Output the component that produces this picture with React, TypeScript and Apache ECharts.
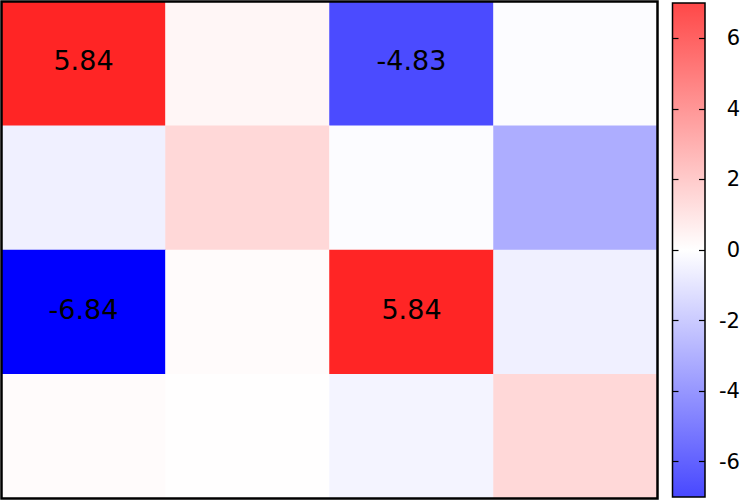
import React, { useEffect, useRef } from "react";
import * as echarts from "echarts";

const columns = ["c0", "c1", "c2", "c3"];
const rows = ["r0", "r1", "r2", "r3"];
const values: number[][] = [
  [5.84, 0.25, -4.83, -0.08],
  [-0.4, 1.05, -0.08, -2.2],
  [-6.84, 0.12, 5.84, -0.4],
  [0.1, 0.04, -0.3, 1.05],
];
const colorbarTicks = [-6, -4, -2, 0, 2, 4, 6];
const colorbarRange = [-7, 7];
const valueRange = [-6.84, 6.84];
const labelThreshold = 4;

export default function App() {
  const ref = useRef<HTMLDivElement>(null);
  useEffect(() => {
    if (!ref.current) return;
    const chart = echarts.init(ref.current, undefined, { renderer: "svg" });
    const data: [number, number, number][] = [];
    values.forEach((row, r) => row.forEach((v, c) => data.push([c, r, v])));
    const font = "DejaVu Sans";
    chart.setOption({
      animation: false,
      backgroundColor: "#ffffff",
      grid: [
        {
          left: 1.5, top: 1.5, width: 656, height: 497,
          show: true, z: 10, backgroundColor: "transparent",
          borderColor: "#000", borderWidth: 2.5,
        },
        {
          left: 672.5, top: 3, width: 33.5, height: 494,
          show: true, z: 10, backgroundColor: "transparent",
          borderColor: "#000", borderWidth: 1.5,
        },
      ],
      xAxis: [
        {
          type: "category", gridIndex: 0, data: columns,
          axisLine: { show: false }, axisTick: { show: false },
          axisLabel: { show: false }, splitLine: { show: false },
        },
        {
          type: "category", gridIndex: 1, data: ["cb"],
          axisLine: { show: false }, axisTick: { show: false },
          axisLabel: { show: false }, splitLine: { show: false },
        },
      ],
      yAxis: [
        {
          type: "category", gridIndex: 0, data: rows, inverse: true,
          axisLine: { show: false }, axisTick: { show: false },
          axisLabel: { show: false }, splitLine: { show: false },
        },
        {
          type: "value", gridIndex: 1, position: "right",
          min: colorbarRange[0], max: colorbarRange[1],
          axisLine: { show: false },
          splitLine: { show: false },
          axisTick: {
            show: true, inside: true, length: 6,
            customValues: colorbarTicks,
            lineStyle: { color: "#000", width: 1.2 },
          },
          axisLabel: {
            show: true, customValues: colorbarTicks,
            fontFamily: font, fontSize: 21, color: "#000",
            align: "right", margin: 35,
          },
          z: 11,
        },
        {
          type: "value", gridIndex: 1, position: "left",
          min: colorbarRange[0], max: colorbarRange[1],
          axisLine: { show: false },
          splitLine: { show: false },
          axisTick: {
            show: true, inside: true, length: 6,
            customValues: colorbarTicks,
            lineStyle: { color: "#000", width: 1.2 },
          },
          axisLabel: { show: false },
          z: 11,
        },
      ],
      visualMap: {
        show: false,
        type: "continuous",
        min: valueRange[0],
        max: valueRange[1],
        seriesIndex: 0,
        inRange: { color: ["#0000ff", "#ffffff", "#ff0000"] },
      },
      series: [
        {
          type: "heatmap",
          xAxisIndex: 0,
          yAxisIndex: 0,
          data,
          itemStyle: { borderWidth: 0 },
          label: {
            show: true,
            fontFamily: font,
            fontSize: 27,
            color: "#000",
            offset: [0, -3],
            formatter: (p: any) => {
              const v = p.value[2];
              return Math.abs(v) > labelThreshold ? v.toFixed(2) : "";
            },
          },
        },
        {
          type: "bar",
          xAxisIndex: 1,
          yAxisIndex: 1,
          data: [colorbarRange[1]],
          barWidth: "100%",
          barGap: "-100%",
          itemStyle: {
            color: new echarts.graphic.LinearGradient(0, 0, 0, 1, [
              { offset: 0, color: "#ff4848" },
              { offset: 1, color: "#ffffff" },
            ]),
          },
        },
        {
          type: "bar",
          xAxisIndex: 1,
          yAxisIndex: 1,
          data: [colorbarRange[0]],
          barWidth: "100%",
          barGap: "-100%",
          itemStyle: {
            color: new echarts.graphic.LinearGradient(0, 0, 0, 1, [
              { offset: 0, color: "#ffffff" },
              { offset: 1, color: "#4848ff" },
            ]),
          },
        },
      ],
    });
    return () => chart.dispose();
  }, []);
  return (
    <div
      ref={ref}
      style={{ position: "fixed", left: 0, top: 0, width: 743, height: 501 }}
    />
  );
}
